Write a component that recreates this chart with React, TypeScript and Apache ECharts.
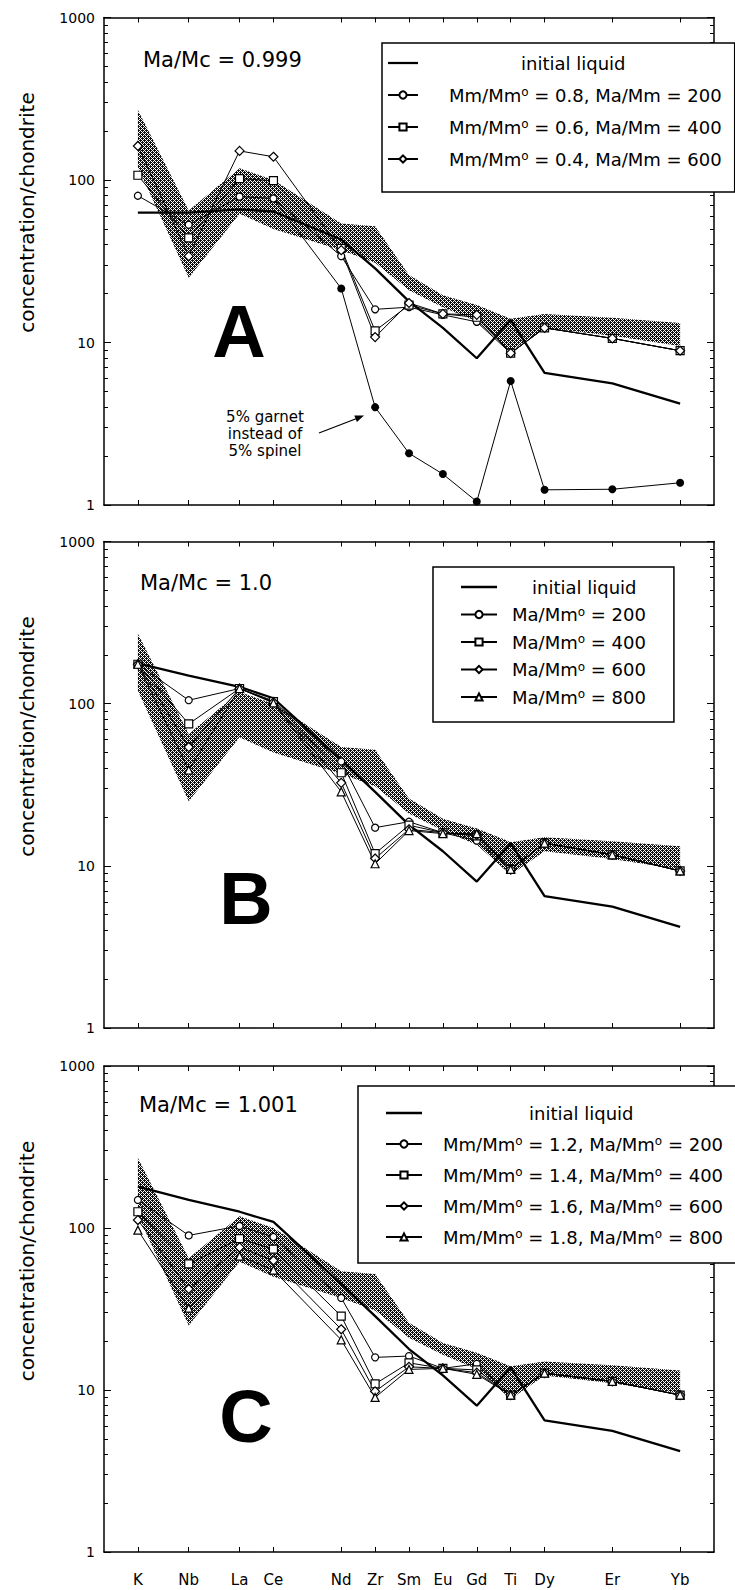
import React, { useEffect, useRef } from 'react';
import * as echarts from 'echarts';

// ---------- data ----------
const ELEMENTS = ['K', 'Nb', 'La', 'Ce', 'Nd', 'Zr', 'Sm', 'Eu', 'Gd', 'Ti', 'Dy', 'Er', 'Yb'];
const X_POS = [0, 1.5, 3, 4, 6, 7, 8, 9, 10, 11, 12, 14, 16];
const Y_MAJOR = [1, 10, 100, 1000];
const Y_MINOR = [2, 3, 4, 5, 6, 7, 8, 9, 20, 30, 40, 50, 60, 70, 80, 90, 200, 300, 400, 500, 600, 700, 800, 900];

// shaded field (same in all panels)
const BAND_UPPER = [270, 65, 118, 100, 54, 52, 26, 19.5, 17, 14, 15, 14.2, 13.2];
const BAND_LOWER = [120, 25, 62, 50, 37, 31, 21, 16.5, 13.5, 8.8, 12.3, 11, 9.5];

// Panel A (Ma/Mc = 0.999)
const A_LIQUID = [63, 63, 66, 64, 43, 28.6, 17.9, 12.3, 8.0, 13.8, 6.5, 5.6, 4.2];
const A_M1 = [80, 53, 79, 77, 34, 16, 16.5, 14.8, 13.4, 8.6, 12.3, 10.6, 8.9];
const A_M2 = [107, 44, 102, 99, 38, 11.8, 17, 15, 14.3, 8.6, 12.3, 10.6, 8.9];
const A_M3 = [162, 34, 151, 139, 37, 10.8, 17.5, 15, 14.8, 8.6, 12.3, 10.6, 8.9];
const A_GARNET = [null, null, null, 77, 21.5, 4.0, 2.08, 1.55, 1.05, 5.8, 1.24, 1.25, 1.37];

// Panel B (Ma/Mc = 1.0)
const B_LIQUID = [177, 149, 127, 108, 45, 28.6, 17.9, 12.3, 8.0, 13.8, 6.5, 5.6, 4.2];
const B_M1 = [175, 105, 124, 104, 44, 17.2, 18.7, 16, 14.3, 9.5, 13.8, 11.7, 9.3];
const B_M2 = [175, 75, 124, 103, 37.5, 11.9, 17.8, 16, 15.3, 9.5, 13.8, 11.7, 9.3];
const B_M3 = [175, 54, 124, 102, 32.5, 11.1, 16.8, 16, 15.5, 9.5, 13.8, 11.7, 9.3];
const B_M4 = [175, 39, 124, 101, 28.6, 10.3, 16.5, 15.8, 15.8, 9.5, 13.8, 11.7, 9.3];

// Panel C (Ma/Mc = 1.001)
const C_LIQUID = [180, 149, 126, 109, 45, 28.6, 17.9, 12.3, 8.0, 13.8, 6.5, 5.6, 4.2];
const C_M1 = [149, 90, 103, 88, 37, 15.9, 16.2, 13.6, 14.5, 9.3, 12.7, 11.3, 9.3];
const C_M2 = [126, 60, 86, 74, 28.6, 10.9, 14.7, 13.6, 13.3, 9.3, 12.7, 11.3, 9.3];
const C_M3 = [112, 42, 76, 63, 23.7, 9.8, 13.9, 13.6, 12.8, 9.3, 12.7, 11.3, 9.3];
const C_M4 = [97, 32, 67, 55, 20.4, 9.0, 13.4, 13.6, 12.5, 9.3, 12.7, 11.3, 9.3];

const LEGEND_A = ['initial liquid', 'Mm/Mmo = 0.8, Ma/Mm = 200', 'Mm/Mmo = 0.6, Ma/Mm = 400', 'Mm/Mmo = 0.4, Ma/Mm = 600'];
const LEGEND_B = ['initial liquid', 'Ma/Mmo = 200', 'Ma/Mmo = 400', 'Ma/Mmo = 600', 'Ma/Mmo = 800'];
const LEGEND_C = ['initial liquid', 'Mm/Mmo = 1.2, Ma/Mmo = 200', 'Mm/Mmo = 1.4, Ma/Mmo = 400', 'Mm/Mmo = 1.6, Ma/Mmo = 600', 'Mm/Mmo = 1.8, Ma/Mmo = 800'];

const PANEL_TITLES = ['Ma/Mc = 0.999', 'Ma/Mc = 1.0', 'Ma/Mc = 1.001'];
const PANEL_LETTERS = ['A', 'B', 'C'];
const Y_NAME = 'concentration/chondrite';
const NOTE_LINES = ['5% garnet', 'instead of', '5% spinel'];

// ---------- layout / style ----------
const FONT = 'DejaVu Sans';
const GRID_LEFT = 104;
const GRID_WIDTH = 610;
const GRID_TOPS = [17.5, 541.5, 1066];
const GRID_HEIGHTS = [487.5, 486.5, 486];
const SYMBOLS = ['circle', 'rect', 'diamond', 'triangle'];
const SYMBOL_SIZES = [7, 8, 9, 8];
const TITLE_POS = [[143, 60], [140, 583], [139, 1105]];
const LETTER_POS = [[239, 331], [246, 898], [246, 1416]];
const Y_NAME_OFFSET = 195;
const LEGEND_LAYOUT = [
  { left: 382, top: 43, padding: [11, 13, 24, 5], itemGap: 14, itemWidth: 30, g: 26, gi: 98 },
  { left: 433, top: 567, padding: [11, 28, 16, 27], itemGap: 9.5, itemWidth: 36, g: 10, gi: 30 },
  { left: 358, top: 1086, padding: [18, 14, 17, 27], itemGap: 13, itemWidth: 36, g: 16, gi: 102 },
];

function pairs(vals: (number | null)[]) {
  const out: any[] = [];
  vals.forEach((v, i) => {
    if (v != null) out.push([X_POS[i], v]);
  });
  return out;
}

function legendFormatter(name: string) {
  if (name === 'initial liquid') return '{gi| }{t|initial liquid}';
  return '{g| }' + name.split('Mmo').map((p) => `{t|${p}}`).join('{t|Mm}{s|o}');
}

export default function App() {
  const ref = useRef<HTMLDivElement>(null);

  useEffect(() => {
    if (!ref.current) return;
    const chart = echarts.init(ref.current, null, { renderer: 'svg' });

    // stipple pattern for the shaded field
    const N = 4;
    const cv = document.createElement('canvas');
    cv.width = N;
    cv.height = N;
    const ctx = cv.getContext('2d')!;
    ctx.fillStyle = '#ffffff';
    ctx.fillRect(0, 0, N, N);
    ctx.fillStyle = '#111111';
    for (let y = 0; y < N; y++) {
      for (let x = 0; x < N; x++) {
        const white = (x % 2 === 1 && y % 2 === 1) || (x === 2 && y === 0) || (x === 0 && y === 2);
        if (!white) ctx.fillRect(x, y, 1, 1);
      }
    }
    const pattern: any = { image: cv.toDataURL(), repeat: 'repeat', imageWidth: N, imageHeight: N };

    const panels = [
      { liquid: A_LIQUID, models: [A_M1, A_M2, A_M3], names: LEGEND_A, garnet: A_GARNET },
      { liquid: B_LIQUID, models: [B_M1, B_M2, B_M3, B_M4], names: LEGEND_B, garnet: null },
      { liquid: C_LIQUID, models: [C_M1, C_M2, C_M3, C_M4], names: LEGEND_C, garnet: null },
    ];

    const grid: any[] = [];
    const xAxis: any[] = [];
    const yAxis: any[] = [];
    const series: any[] = [];
    const legend: any[] = [];
    const graphic: any[] = [];

    const frameLine = { show: true, onZero: false, lineStyle: { color: '#000', width: 1.5 } };

    panels.forEach((p, i) => {
      grid.push({ left: GRID_LEFT, width: GRID_WIDTH, top: GRID_TOPS[i], height: GRID_HEIGHTS[i] });

      ['bottom', 'top'].forEach((pos) => {
        xAxis.push({
          gridIndex: i,
          type: 'value',
          min: -1,
          max: 17,
          position: pos,
          axisLine: frameLine,
          axisTick: { show: true, inside: true, length: 5, customValues: X_POS, lineStyle: { color: '#000', width: 1 } },
          axisLabel: {
            show: pos === 'bottom' && i === 2,
            customValues: X_POS,
            formatter: (v: number) => ELEMENTS[X_POS.indexOf(v)] ?? '',
            fontFamily: FONT,
            fontSize: 15,
            color: '#000',
            margin: 20,
          },
          splitLine: { show: false },
        });
      });

      ['left', 'right'].forEach((pos) => {
        yAxis.push({
          gridIndex: i,
          type: 'log',
          logBase: 10,
          min: 1,
          max: 1000,
          position: pos,
          axisLine: frameLine,
          axisTick: { show: true, inside: true, length: 7, customValues: Y_MAJOR, lineStyle: { color: '#000', width: 1 } },
          axisLabel: {
            show: pos === 'left',
            customValues: Y_MAJOR,
            formatter: (v: number) => String(Math.round(v)),
            fontFamily: FONT,
            fontSize: 14,
            color: '#000',
            margin: 9,
          },
          splitLine: { show: false },
        });
        yAxis.push({
          gridIndex: i,
          type: 'log',
          logBase: 10,
          min: 1,
          max: 1000,
          position: pos,
          axisLine: { show: false, onZero: false },
          axisTick: { show: true, inside: true, length: 4, customValues: Y_MINOR, lineStyle: { color: '#000', width: 1 } },
          axisLabel: { show: false },
          splitLine: { show: false },
        });
      });

      const xi = 2 * i;
      const yi = 4 * i;

      // shaded field
      series.push({
        type: 'custom',
        xAxisIndex: xi,
        yAxisIndex: yi,
        z: 1,
        silent: true,
        data: X_POS.map((x, k) => [x, BAND_LOWER[k], BAND_UPPER[k]]),
        encode: { x: 0, y: [1, 2] },
        renderItem: (params: any, api: any) => {
          if (params.dataIndex !== 0) return null;
          const up = X_POS.map((x, k) => api.coord([x, BAND_UPPER[k]]));
          const lo = X_POS.map((x, k) => api.coord([x, BAND_LOWER[k]])).reverse();
          return {
            type: 'polygon',
            shape: { points: up.concat(lo) },
            style: { fill: pattern, stroke: null },
          };
        },
      });

      // initial liquid
      series.push({
        type: 'line',
        name: 'initial liquid',
        xAxisIndex: xi,
        yAxisIndex: yi,
        z: 3,
        symbol: 'none',
        lineStyle: { color: '#000', width: 2.3 },
        itemStyle: { color: '#000' },
        data: pairs(p.liquid),
      });

      p.models.forEach((m, k) => {
        series.push({
          type: 'line',
          name: p.names[k + 1],
          xAxisIndex: xi,
          yAxisIndex: yi,
          z: 4,
          symbol: SYMBOLS[k],
          symbolSize: SYMBOL_SIZES[k],
          lineStyle: { color: '#000', width: 1 },
          itemStyle: { color: '#fff', borderColor: '#000', borderWidth: 1.2 },
          data: pairs(m),
        });
      });

      if (p.garnet) {
        const gd = pairs(p.garnet).map((pt, k) => (k === 0 ? { value: pt, symbol: 'none' } : pt));
        series.push({
          type: 'line',
          name: 'garnet',
          xAxisIndex: xi,
          yAxisIndex: yi,
          z: 4,
          symbol: 'circle',
          symbolSize: 8,
          lineStyle: { color: '#000', width: 1 },
          itemStyle: { color: '#000' },
          data: gd,
        });
      }

      const L = LEGEND_LAYOUT[i];
      legend.push({
        data: p.names.map((n) => (n === 'initial liquid' ? { name: n, icon: 'path://M0 0H40V3H0Z' } : n)),
        orient: 'vertical',
        left: L.left,
        top: L.top,
        padding: L.padding,
        itemGap: L.itemGap,
        itemWidth: L.itemWidth,
        itemHeight: 9,
        backgroundColor: '#fff',
        borderColor: '#000',
        borderWidth: 1.5,
        borderRadius: 0,
        selectedMode: false,
        align: 'left',
        z: 10,
        formatter: legendFormatter,
        textStyle: {
          rich: {
            t: { fontFamily: FONT, fontSize: 18, color: '#000', lineHeight: 18 },
            s: { fontFamily: FONT, fontSize: 12, color: '#000', lineHeight: 18, verticalAlign: 'top' },
            g: { width: L.g, lineHeight: 18 },
            gi: { width: L.gi, lineHeight: 18 },
          },
        },
      });

      // texts
      graphic.push({
        type: 'text',
        x: 27,
        y: GRID_TOPS[i] + Y_NAME_OFFSET,
        rotation: Math.PI / 2,
        style: { text: Y_NAME, font: `20px "${FONT}"`, fill: '#000', textAlign: 'center', textVerticalAlign: 'middle' },
      });
      graphic.push({
        type: 'text',
        x: TITLE_POS[i][0],
        y: TITLE_POS[i][1],
        style: { text: PANEL_TITLES[i], font: `21px "${FONT}"`, fill: '#000', textAlign: 'left', textVerticalAlign: 'middle' },
      });
      graphic.push({
        type: 'text',
        x: LETTER_POS[i][0],
        y: LETTER_POS[i][1],
        z: 5,
        style: { text: PANEL_LETTERS[i], font: 'bold 74px "Liberation Sans"', fill: '#000', textAlign: 'center', textVerticalAlign: 'middle' },
      });
    });

    NOTE_LINES.forEach((t, k) => {
      graphic.push({
        type: 'text',
        x: 265,
        y: 417 + 17 * k,
        style: { text: t, font: `15px "${FONT}"`, fill: '#000', textAlign: 'center', textVerticalAlign: 'middle' },
      });
    });
    graphic.push({
      type: 'line',
      shape: { x1: 319, y1: 433, x2: 358, y2: 418 },
      style: { stroke: '#000', lineWidth: 1.3 },
    });
    graphic.push({
      type: 'polygon',
      shape: { points: [[364, 415.6], [356.9, 422.1], [354.3, 415.5]] },
      style: { fill: '#000' },
    });

    chart.setOption({
      animation: false,
      backgroundColor: '#fff',
      textStyle: { fontFamily: FONT },
      grid,
      xAxis,
      yAxis,
      legend,
      graphic,
      series,
    });

    return () => chart.dispose();
  }, []);

  return (
    <div
      ref={ref}
      style={{ position: 'absolute', left: 0, top: 0, width: 735, height: 1590, background: '#fff' }}
    />
  );
}
